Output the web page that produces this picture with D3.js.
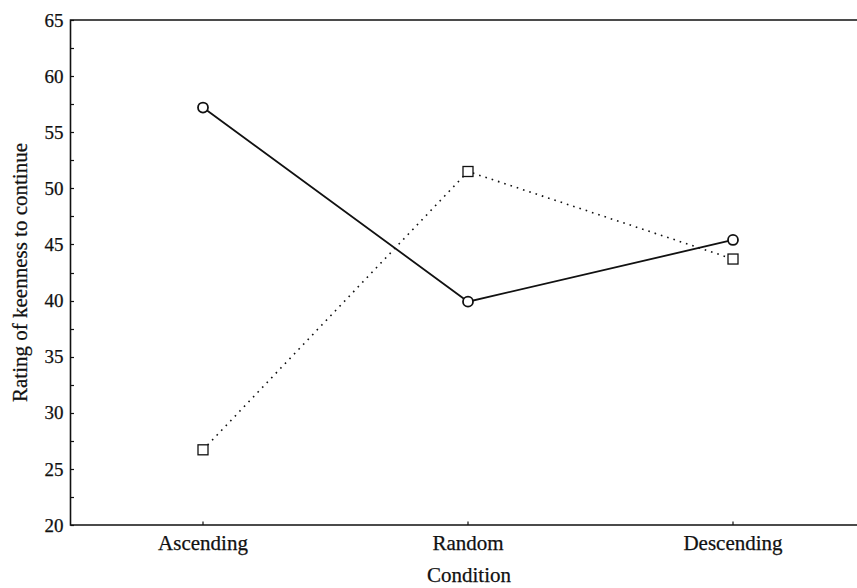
<!DOCTYPE html>
<html>
<head>
<meta charset="utf-8">
<script src="https://cdn.jsdelivr.net/npm/d3@7"></script>
<style>
  body { margin: 0; background: #fff; }
  text { font-family: "Liberation Serif", "Times New Roman", serif; fill: #111; stroke: #111; stroke-width: 0.25; }
</style>
</head>
<body>
<svg id="chart" width="857" height="588"></svg>
<script>
// categories and values
const conditions = ["Ascending", "Random", "Descending"];
const circleSeries = [57.2, 39.9, 45.4];   // solid line, open circles
const squareSeries = [26.7, 51.5, 43.7];   // dotted line, open squares
const yTicks = [20, 25, 30, 35, 40, 45, 50, 55, 60, 65];
const yMinorTicks = d3.range(20, 65.01, 2.5);

const svg = d3.select("#chart");

// plot box
const plotLeft = 70.5, plotRight = 857, plotTop = 20, plotBottom = 525;

const x = d3.scalePoint().domain(conditions).range([203, 733]);
const y = d3.scaleLinear().domain([20, 65]).range([plotBottom, plotTop]);

// frame: left, top and bottom lines
svg.append("path")
  .attr("d", `M${plotRight},${plotTop}H${plotLeft}V${plotBottom}H${plotRight}`)
  .attr("fill", "none")
  .attr("stroke", "#111")
  .attr("stroke-width", 1.6);

// y ticks, pointing inward
svg.append("g").selectAll("line").data(yMinorTicks).join("line")
  .attr("x1", plotLeft).attr("x2", plotLeft + 3.5)
  .attr("y1", d => Math.round(y(d)) + 0.5).attr("y2", d => Math.round(y(d)) + 0.5)
  .attr("stroke", "#111").attr("stroke-width", 1.2);

svg.append("g").selectAll("text").data(yTicks).join("text")
  .attr("x", plotLeft - 7)
  .attr("y", d => y(d))
  .attr("dy", "0.35em")
  .attr("text-anchor", "end")
  .attr("font-size", 19)
  .text(d => d);

// x ticks
svg.append("g").selectAll("line").data(conditions).join("line")
  .attr("x1", d => x(d)).attr("x2", d => x(d))
  .attr("y1", plotBottom).attr("y2", plotBottom - 3.5)
  .attr("stroke", "#111").attr("stroke-width", 1.2);

svg.append("g").selectAll("text").data(conditions).join("text")
  .attr("x", d => x(d))
  .attr("y", 550)
  .attr("text-anchor", "middle")
  .attr("font-size", 21)
  .text(d => d);

// axis titles
svg.append("text")
  .attr("x", 469).attr("y", 582)
  .attr("text-anchor", "middle")
  .attr("font-size", 21)
  .text("Condition");

svg.append("text")
  .attr("transform", `translate(27,${(plotTop + plotBottom) / 2}) rotate(-90)`)
  .attr("text-anchor", "middle")
  .attr("font-size", 21)
  .text("Rating of keenness to continue");

const line = d3.line().x((d, i) => x(conditions[i])).y(d => y(d));

// dotted series
svg.append("path")
  .datum(squareSeries)
  .attr("d", line)
  .attr("fill", "none")
  .attr("stroke", "#111")
  .attr("stroke-width", 1.6)
  .attr("stroke-dasharray", "1.6,5");

// solid series
svg.append("path")
  .datum(circleSeries)
  .attr("d", line)
  .attr("fill", "none")
  .attr("stroke", "#111")
  .attr("stroke-width", 1.8);

svg.append("g").selectAll("rect").data(squareSeries).join("rect")
  .attr("x", (d, i) => x(conditions[i]) - 5)
  .attr("y", d => y(d) - 5)
  .attr("width", 10).attr("height", 10)
  .attr("fill", "#fff")
  .attr("stroke", "#111")
  .attr("stroke-width", 1.3);

svg.append("g").selectAll("circle").data(circleSeries).join("circle")
  .attr("cx", (d, i) => x(conditions[i]))
  .attr("cy", d => y(d))
  .attr("r", 5)
  .attr("fill", "#fff")
  .attr("stroke", "#111")
  .attr("stroke-width", 1.8);
</script>
</body>
</html>
